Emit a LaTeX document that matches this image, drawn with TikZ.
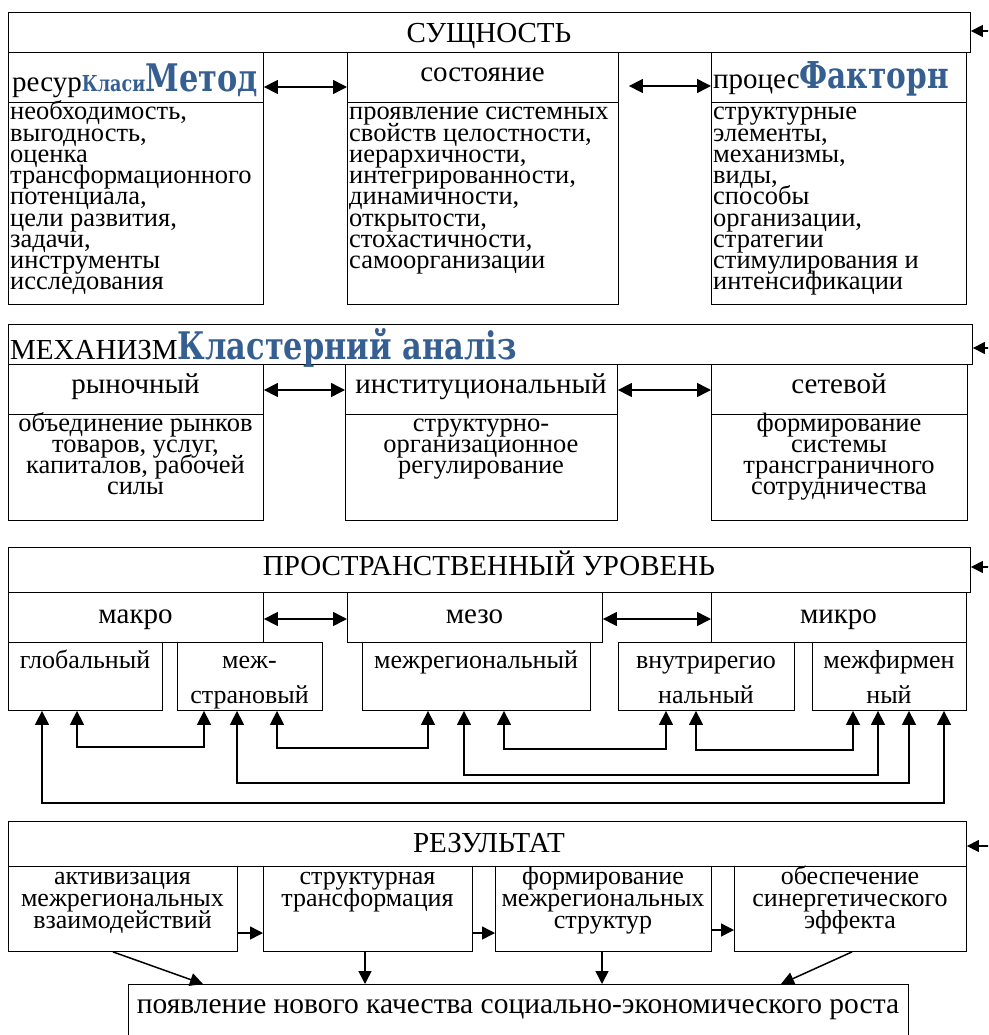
\documentclass[tikz,border=0pt]{standalone}
\usepackage{fontspec}
\setmainfont{Liberation Serif}
\newfontfamily\bluefont[FakeStretch=0.8]{DejaVu Serif}
\usetikzlibrary{arrows.meta,calc}
\definecolor{hblue}{RGB}{54,95,145}
\tikzset{
  box/.style={draw, line width=0.9pt, inner sep=0pt, anchor=north west},
  conn/.style={line width=1.5pt, -{Triangle[length=13pt,width=13pt]}},
  econn/.style={line width=1.5pt, -{Triangle[length=12pt,width=12pt]}},
  dconn/.style={line width=1.5pt, {Triangle[length=14pt,width=14pt]}-{Triangle[length=14pt,width=14pt]}},
  hd/.style={font=\fontsize{29}{30}\selectfont, inner sep=0pt, anchor=base},
  bd/.style={font=\fontsize{26.5}{21.2}\selectfont, inner sep=0pt},
  sm/.style={font=\fontsize{26}{22}\selectfont, inner sep=0pt, anchor=base},
}
\newcommand\bx[5]{\node[box,minimum width={(#4-#2)*1pt},minimum height={(#5-#3)*1pt}] (#1) at (#2,#3) {};}
\newcommand\bl[3]{{\color{hblue}\bluefont\bfseries\fontsize{#1}{#1}\selectfont #3}}
\begin{document}
\begin{tikzpicture}[x=1pt,y=-1pt]
\useasboundingbox (0,0) rectangle (988,1035);
\clip (0,0) rectangle (988,1035);
% ---------- Section 1
\bx{h1}{8}{12}{970}{52}
\bx{s1a}{8}{52}{263}{102}
\bx{s1b}{347}{52}{618}{102}
\bx{s1c}{711}{52}{966}{102}
\bx{s1ab}{8}{102}{263}{304}
\bx{s1bb}{347}{102}{618}{304}
\bx{s1cb}{711}{102}{966}{304}
\node[hd] (t1) at (489,43) {СУЩНОСТЬ};
\node[inner sep=0pt,anchor=base west] (t1a) at (12,92) {{\fontsize{29}{30}\selectfont ресур}\bl{22}{}{Класи}\bl{38}{}{Метод}};
\node[hd] (t1b) at (482.5,82) {состояние};
\node[inner sep=0pt,anchor=base west] (t1c) at (713,89) {{\fontsize{29}{30}\selectfont процес}\bl{37}{}{Факторн}};
\foreach \t [count=\i] in {{необходимость,},{выгодность,},{оценка},{трансформационного},{потенциала,},{цели развития,},{задачи,},{инструменты},{исследования}}
  \node[bd,anchor=base west] (la\i) at (10,{120+21.2*(\i-1)}) {\t};
\foreach \t [count=\i] in {{проявление системных},{свойств целостности,},{иерархичности,},{интегрированности,},{динамичности,},{открытости,},{стохастичности,},{самоорганизации}}
  \node[bd,anchor=base west] (lb\i) at (349,{120+21.2*(\i-1)}) {\t};
\foreach \t [count=\i] in {{структурные},{элементы,},{механизмы,},{виды,},{способы},{организации,},{стратегии},{стимулирования и},{интенсификации}}
  \node[bd,anchor=base west] (lc\i) at (713,{120+21.2*(\i-1)}) {\t};
\draw[dconn] (s1a.east |- 0,87) -- (s1b.west |- 0,87);
\draw[dconn] ([xshift=10pt]s1b.east |- 0,86) -- (s1c.west |- 0,86);
\coordinate (e1) at (992,31);
\draw[econn] (e1) -- (h1.east |- e1);
% ---------- Section 2
\bx{h2}{8}{324}{972}{364}
\bx{s2a}{8}{364}{263}{414}
\bx{s2b}{345}{364}{617}{414}
\bx{s2c}{711}{364}{967}{414}
\bx{s2ab}{8}{414}{263}{520}
\bx{s2bb}{345}{414}{617}{520}
\bx{s2cb}{711}{414}{967}{520}
\node[inner sep=0pt,anchor=base west] (t2) at (10,359) {{\fontsize{29}{30}\selectfont МЕХАНИЗМ}\bl{38}{}{Кластерний аналіз}};
\node[hd] (t2a) at (135.5,393) {рыночный};
\node[hd] (t2b) at (481,393) {институциональный};
\node[hd] (t2c) at (839,393) {сетевой};
\foreach \t [count=\i] in {{объединение рынков},{товаров, услуг,},{капиталов, рабочей},{силы}}
  \node[bd,anchor=base] (ma\i) at (135.5,{431+21.3*(\i-1)}) {\t};
\foreach \t [count=\i] in {{структурно-},{организационное},{регулирование}}
  \node[bd,anchor=base] (mb\i) at (481,{431+21.3*(\i-1)}) {\t};
\foreach \t [count=\i] in {{формирование},{системы},{трансграничного},{сотрудничества}}
  \node[bd,anchor=base] (mc\i) at (839,{431+21.3*(\i-1)}) {\t};
\draw[dconn] (s2a.east |- 0,390) -- (s2b.west |- 0,390);
\draw[dconn] (s2b.east |- 0,390) -- (s2c.west |- 0,390);
\coordinate (e2) at (992,348);
\draw[econn] (e2) -- (h2.east |- e2);
% ---------- Section 3
\bx{h3}{8}{547}{970}{592}
\bx{s3a}{8}{592}{263}{642}
\bx{s3b}{347}{592}{602}{642}
\bx{s3c}{711}{592}{966}{642}
\bx{glob}{8}{642}{162}{710}
\bx{mstr}{177}{642}{322}{710}
\bx{mreg}{362}{642}{590}{710}
\bx{vreg}{618}{642}{794}{710}
\bx{mfirm}{812}{642}{966}{710}
\node[hd] (t3) at (489,575) {ПРОСТРАНСТВЕННЫЙ УРОВЕНЬ};
\node[hd] (t3a) at (135.5,623) {макро};
\node[hd] (t3b) at (474.5,623) {мезо};
\node[hd] (t3c) at (838.5,623) {микро};
\node[sm] (g1) at (85,668) {глобальный};
\node[sm] (g2) at (249.5,668) {меж-};
\node[sm] (g3) at (249.5,703) {страновый};
\node[sm] (g4) at (476,668) {межрегиональный};
\node[sm] (g5) at (706,668) {внутрирегио};
\node[sm] (g6) at (706,703) {нальный};
\node[sm] (g7) at (889,668) {межфирмен};
\node[sm] (g8) at (889,703) {ный};
\draw[dconn] (s3a.east |- 0,619) -- (s3b.west |- 0,619);
\draw[dconn] (s3b.east |- 0,619) -- (s3c.west |- 0,619);
\coordinate (e3) at (992,567);
\draw[econn] (e3) -- (h3.east |- e3);
\draw[dconn] (glob.south -| 42,0) -- (42,803) -- (944,803) -- (mfirm.south -| 944,0);
\draw[dconn] (glob.south -| 77,0) -- (77,747) -- (204,747) -- (mstr.south -| 204,0);
\draw[dconn] (mstr.south -| 237,0) -- (237,783) -- (909,783) -- (mfirm.south -| 909,0);
\draw[dconn] (mstr.south -| 277,0) -- (277,748) -- (428,748) -- (mreg.south -| 428,0);
\draw[dconn] (mreg.south -| 464,0) -- (464,775) -- (878,775) -- (mfirm.south -| 878,0);
\draw[dconn] (mreg.south -| 504,0) -- (504,749) -- (666,749) -- (vreg.south -| 666,0);
\draw[dconn] (vreg.south -| 696,0) -- (696,750) -- (853,750) -- (mfirm.south -| 853,0);
% ---------- Section 4
\bx{h4}{8}{821}{966}{866}
\bx{r1}{8}{866}{237}{951}
\bx{r2}{263}{866}{472}{951}
\bx{r3}{495}{866}{711}{951}
\bx{r4}{734}{866}{966}{951}
\bx{fin}{128}{984}{908}{1060}
\node[hd] (t4) at (489,852) {РЕЗУЛЬТАТ};
\foreach \t [count=\i] in {{активизация},{межрегиональных},{взаимодействий}}
  \node[sm] (ra\i) at (122.5,{884+22*(\i-1)}) {\t};
\foreach \t [count=\i] in {{структурная},{трансформация}}
  \node[sm] (rb\i) at (367.5,{884+22*(\i-1)}) {\t};
\foreach \t [count=\i] in {{формирование},{межрегиональных},{структур}}
  \node[sm] (rc\i) at (603,{884+22*(\i-1)}) {\t};
\foreach \t [count=\i] in {{обеспечение},{синергетического},{эффекта}}
  \node[sm] (rd\i) at (850,{884+22*(\i-1)}) {\t};
\node[hd,font=\fontsize{29.5}{30}\selectfont] (tf) at (518,1013) {появление нового качества социально-экономического роста};
\draw[conn] (r1.east |- 0,933) -- (r2.west |- 0,933);
\draw[conn] (r2.east |- 0,933) -- (r3.west |- 0,933);
\draw[conn] (r3.east |- 0,930) -- (r4.west |- 0,930);
\draw[conn] (r1.south -| 113,0) -- (fin.north -| 203,0);
\draw[conn] (r2.south -| 365,0) -- (fin.north -| 365,0);
\draw[conn] (r3.south -| 602,0) -- (fin.north -| 602,0);
\draw[conn] (r4.south -| 852,0) -- (fin.north -| 781,0);
\coordinate (e4) at (992,846);
\draw[econn] (e4) -- (h4.east |- e4);
\end{tikzpicture}
\end{document}
